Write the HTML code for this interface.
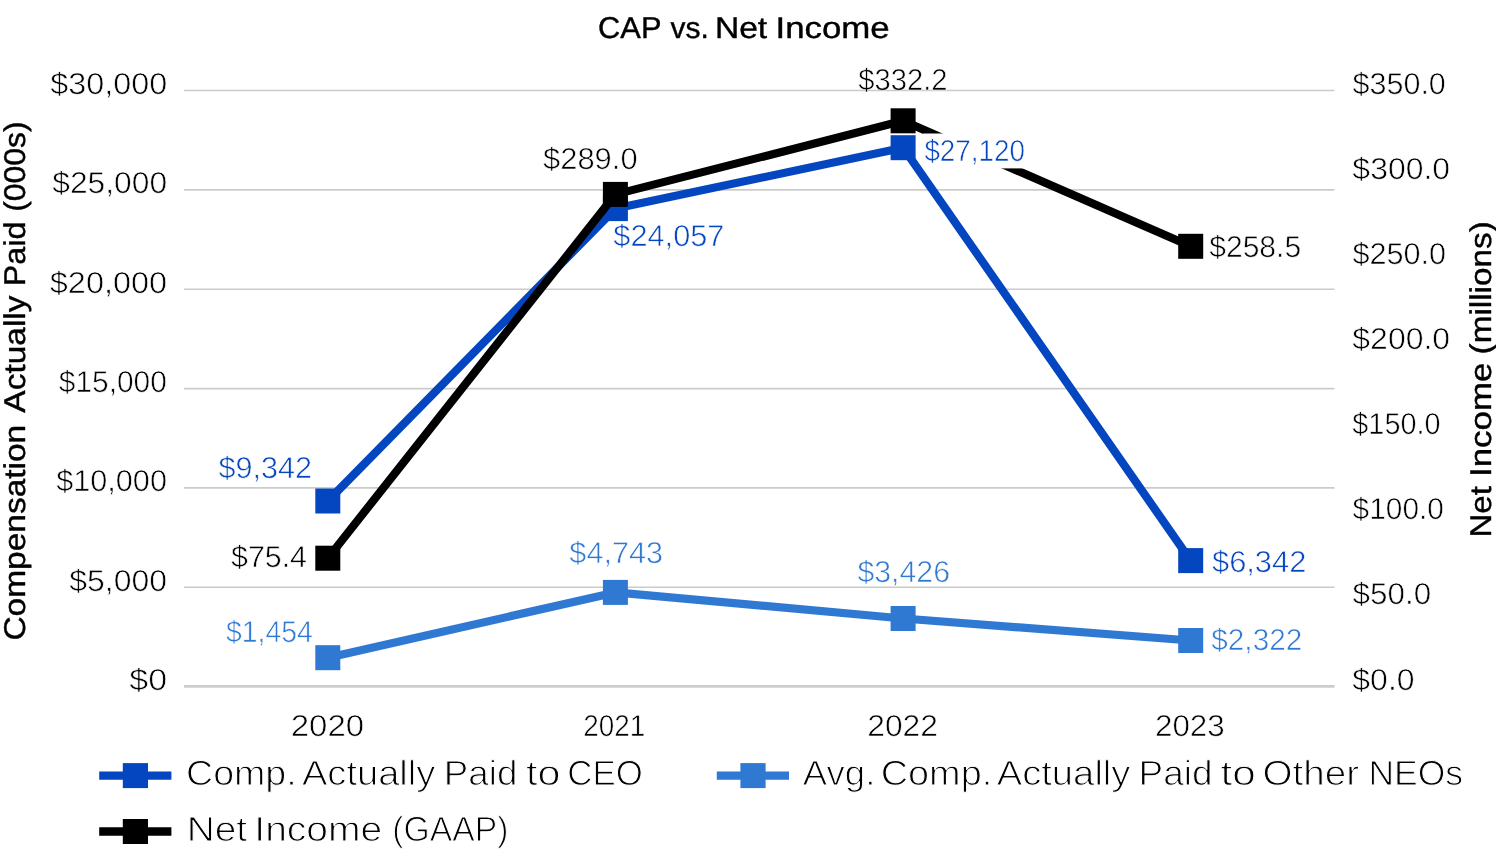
<!DOCTYPE html>
<html><head><meta charset="utf-8"><title>CAP vs. Net Income</title>
<style>html,body{margin:0;padding:0;background:#fff;}body{width:1496px;height:867px;overflow:hidden;}svg{display:block;}text{font-family:"Liberation Sans",sans-serif;}</style></head><body>
<svg width="1496" height="867" viewBox="0 0 1496 867">
<defs><filter id="ga" filterUnits="userSpaceOnUse" x="0" y="0" width="1496" height="867"><feOffset dx="0" dy="0"/></filter></defs>
<rect x="0" y="0" width="1496" height="867" fill="#ffffff"/>
<line x1="184.0" y1="90.50" x2="1334.5" y2="90.50" stroke="#cbcbcb" stroke-width="1.65"/>
<line x1="184.0" y1="189.85" x2="1334.5" y2="189.85" stroke="#cbcbcb" stroke-width="1.65"/>
<line x1="184.0" y1="289.20" x2="1334.5" y2="289.20" stroke="#cbcbcb" stroke-width="1.65"/>
<line x1="184.0" y1="388.55" x2="1334.5" y2="388.55" stroke="#cbcbcb" stroke-width="1.65"/>
<line x1="184.0" y1="487.90" x2="1334.5" y2="487.90" stroke="#cbcbcb" stroke-width="1.65"/>
<line x1="184.0" y1="587.25" x2="1334.5" y2="587.25" stroke="#cbcbcb" stroke-width="1.65"/>
<line x1="184.0" y1="686.45" x2="1334.5" y2="686.45" stroke="#cccccc" stroke-width="2.7"/>
<polyline fill="none" stroke="#0446BF" stroke-width="8.2" stroke-linejoin="round" points="327.8,501.0 615.4,208.6 903.1,147.7 1190.7,560.6"/>
<rect x="315.3" y="488.5" width="25" height="25" fill="#0446BF"/>
<rect x="602.9" y="196.1" width="25" height="25" fill="#0446BF"/>
<rect x="890.6" y="135.2" width="25" height="25" fill="#0446BF"/>
<rect x="1178.2" y="548.1" width="25" height="25" fill="#0446BF"/>
<polyline fill="none" stroke="#2F79D2" stroke-width="8.2" stroke-linejoin="round" points="327.8,657.7 615.4,592.4 903.1,618.5 1190.7,640.5"/>
<rect x="315.3" y="645.2" width="25" height="25" fill="#2F79D2"/>
<rect x="602.9" y="579.9" width="25" height="25" fill="#2F79D2"/>
<rect x="890.6" y="606.0" width="25" height="25" fill="#2F79D2"/>
<rect x="1178.2" y="628.0" width="25" height="25" fill="#2F79D2"/>
<polyline fill="none" stroke="#000000" stroke-width="8.2" stroke-linejoin="round" points="327.8,558.2 615.4,194.4 903.1,120.8 1190.7,246.3"/>
<rect x="315.3" y="545.7" width="25" height="25" fill="#000000"/>
<rect x="602.9" y="181.9" width="25" height="25" fill="#000000"/>
<rect x="890.6" y="108.3" width="25" height="25" fill="#000000"/>
<rect x="1178.2" y="233.8" width="25" height="25" fill="#000000"/>
<rect x="923" y="133.5" width="102.5" height="34.9" fill="#fff"/>
<line x1="99.2" y1="775.6" x2="171.4" y2="775.6" stroke="#0446BF" stroke-width="8.4"/>
<rect x="122.8" y="763.1" width="25.2" height="25" fill="#0446BF"/>
<line x1="716.8" y1="775.6" x2="789.0" y2="775.6" stroke="#2F79D2" stroke-width="8.4"/>
<rect x="740.4" y="763.1" width="25.2" height="25" fill="#2F79D2"/>
<line x1="99.2" y1="831.5" x2="171.4" y2="831.5" stroke="#000000" stroke-width="8.4"/>
<rect x="122.8" y="819.0" width="25.2" height="25" fill="#000000"/>
<g filter="url(#ga)" text-rendering="geometricPrecision">
<text id="yl0" x="50.15" y="93.80" font-size="30.20" fill="#000000" textLength="116.99" lengthAdjust="spacingAndGlyphs" stroke="#ffffff" stroke-width="0.60" stroke-linejoin="round">$30,000</text>
<text id="yl1" x="52.23" y="193.15" font-size="30.20" fill="#000000" textLength="114.89" lengthAdjust="spacingAndGlyphs" stroke="#ffffff" stroke-width="0.60" stroke-linejoin="round">$25,000</text>
<text id="yl2" x="49.81" y="292.50" font-size="30.20" fill="#000000" textLength="117.28" lengthAdjust="spacingAndGlyphs" stroke="#ffffff" stroke-width="0.60" stroke-linejoin="round">$20,000</text>
<text id="yl3" x="58.81" y="391.85" font-size="30.20" fill="#000000" textLength="108.09" lengthAdjust="spacingAndGlyphs" stroke="#ffffff" stroke-width="0.60" stroke-linejoin="round">$15,000</text>
<text id="yl4" x="56.15" y="491.20" font-size="30.20" fill="#000000" textLength="110.80" lengthAdjust="spacingAndGlyphs" stroke="#ffffff" stroke-width="0.60" stroke-linejoin="round">$10,000</text>
<text id="yl5" x="69.27" y="590.55" font-size="30.20" fill="#000000" textLength="97.73" lengthAdjust="spacingAndGlyphs" stroke="#ffffff" stroke-width="0.60" stroke-linejoin="round">$5,000</text>
<text id="yl6" x="129.28" y="689.90" font-size="30.20" fill="#000000" textLength="37.80" lengthAdjust="spacingAndGlyphs" stroke="#ffffff" stroke-width="0.60" stroke-linejoin="round">$0</text>
<text id="yr0" x="1352.56" y="93.50" font-size="30.20" fill="#000000" textLength="93.30" lengthAdjust="spacingAndGlyphs" stroke="#ffffff" stroke-width="0.60" stroke-linejoin="round">$350.0</text>
<text id="yr1" x="1352.38" y="178.66" font-size="30.20" fill="#000000" textLength="97.65" lengthAdjust="spacingAndGlyphs" stroke="#ffffff" stroke-width="0.60" stroke-linejoin="round">$300.0</text>
<text id="yr2" x="1352.51" y="263.81" font-size="30.20" fill="#000000" textLength="93.66" lengthAdjust="spacingAndGlyphs" stroke="#ffffff" stroke-width="0.60" stroke-linejoin="round">$250.0</text>
<text id="yr3" x="1352.35" y="348.97" font-size="30.20" fill="#000000" textLength="97.76" lengthAdjust="spacingAndGlyphs" stroke="#ffffff" stroke-width="0.60" stroke-linejoin="round">$200.0</text>
<text id="yr4" x="1352.36" y="434.13" font-size="30.20" fill="#000000" textLength="88.09" lengthAdjust="spacingAndGlyphs" stroke="#ffffff" stroke-width="0.60" stroke-linejoin="round">$150.0</text>
<text id="yr5" x="1352.59" y="519.29" font-size="30.20" fill="#000000" textLength="91.33" lengthAdjust="spacingAndGlyphs" stroke="#ffffff" stroke-width="0.60" stroke-linejoin="round">$100.0</text>
<text id="yr6" x="1352.55" y="604.44" font-size="30.20" fill="#000000" textLength="78.56" lengthAdjust="spacingAndGlyphs" stroke="#ffffff" stroke-width="0.60" stroke-linejoin="round">$50.0</text>
<text id="yr7" x="1352.33" y="689.60" font-size="30.20" fill="#000000" textLength="62.27" lengthAdjust="spacingAndGlyphs" stroke="#ffffff" stroke-width="0.60" stroke-linejoin="round">$0.0</text>
<text id="x0" x="290.73" y="736.00" font-size="30.20" fill="#000000" textLength="73.39" lengthAdjust="spacingAndGlyphs" stroke="#ffffff" stroke-width="0.60" stroke-linejoin="round">2020</text>
<text id="x1" x="583.20" y="736.00" font-size="30.20" fill="#000000" textLength="61.97" lengthAdjust="spacingAndGlyphs" stroke="#ffffff" stroke-width="0.60" stroke-linejoin="round">2021</text>
<text id="x2" x="867.27" y="736.00" font-size="30.20" fill="#000000" textLength="70.70" lengthAdjust="spacingAndGlyphs" stroke="#ffffff" stroke-width="0.60" stroke-linejoin="round">2022</text>
<text id="x3" x="1154.96" y="736.00" font-size="30.20" fill="#000000" textLength="69.73" lengthAdjust="spacingAndGlyphs" stroke="#ffffff" stroke-width="0.60" stroke-linejoin="round">2023</text>
<text id="d0" x="218.42" y="478.40" font-size="30.20" fill="#0446BF" textLength="93.51" lengthAdjust="spacingAndGlyphs" stroke="#ffffff" stroke-width="0.60" stroke-linejoin="round">$9,342</text>
<text id="d1" x="231.12" y="566.60" font-size="30.20" fill="#000000" textLength="75.88" lengthAdjust="spacingAndGlyphs" stroke="#ffffff" stroke-width="0.60" stroke-linejoin="round">$75.4</text>
<text id="d2" x="226.04" y="641.60" font-size="30.20" fill="#2F79D2" textLength="86.66" lengthAdjust="spacingAndGlyphs" stroke="#ffffff" stroke-width="0.60" stroke-linejoin="round">$1,454</text>
<text id="d3" x="543.08" y="168.80" font-size="30.20" fill="#000000" textLength="94.50" lengthAdjust="spacingAndGlyphs" stroke="#ffffff" stroke-width="0.60" stroke-linejoin="round">$289.0</text>
<text id="d4" x="613.30" y="246.00" font-size="30.20" fill="#0446BF" textLength="111.17" lengthAdjust="spacingAndGlyphs" stroke="#ffffff" stroke-width="0.60" stroke-linejoin="round">$24,057</text>
<text id="d5" x="569.36" y="562.80" font-size="30.20" fill="#2F79D2" textLength="93.71" lengthAdjust="spacingAndGlyphs" stroke="#ffffff" stroke-width="0.60" stroke-linejoin="round">$4,743</text>
<text id="d6" x="858.32" y="89.70" font-size="30.20" fill="#000000" textLength="89.16" lengthAdjust="spacingAndGlyphs" stroke="#ffffff" stroke-width="0.60" stroke-linejoin="round">$332.2</text>
<text id="d7" x="924.39" y="161.10" font-size="30.20" fill="#0446BF" textLength="100.53" lengthAdjust="spacingAndGlyphs" stroke="#ffffff" stroke-width="0.60" stroke-linejoin="round">$27,120</text>
<text id="d8" x="1209.22" y="256.70" font-size="30.20" fill="#000000" textLength="91.90" lengthAdjust="spacingAndGlyphs" stroke="#ffffff" stroke-width="0.60" stroke-linejoin="round">$258.5</text>
<text id="d9" x="857.39" y="582.30" font-size="30.20" fill="#2F79D2" textLength="92.63" lengthAdjust="spacingAndGlyphs" stroke="#ffffff" stroke-width="0.60" stroke-linejoin="round">$3,426</text>
<text id="d10" x="1212.06" y="572.00" font-size="30.20" fill="#0446BF" textLength="94.24" lengthAdjust="spacingAndGlyphs" stroke="#ffffff" stroke-width="0.60" stroke-linejoin="round">$6,342</text>
<text id="d11" x="1211.32" y="649.90" font-size="30.20" fill="#2F79D2" textLength="90.91" lengthAdjust="spacingAndGlyphs" stroke="#ffffff" stroke-width="0.60" stroke-linejoin="round">$2,322</text>
<text id="t0" x="598.08" y="37.50" font-size="30.00" fill="#000" textLength="63.39" lengthAdjust="spacingAndGlyphs" stroke="#000" stroke-width="0.40" stroke-linejoin="round">CAP</text>
<text id="t1" x="670.55" y="37.50" font-size="30.00" fill="#000" textLength="38.31" lengthAdjust="spacingAndGlyphs" stroke="#000" stroke-width="0.40" stroke-linejoin="round">vs.</text>
<text id="t2" x="714.90" y="37.50" font-size="30.00" fill="#000" textLength="52.31" lengthAdjust="spacingAndGlyphs" stroke="#000" stroke-width="0.40" stroke-linejoin="round">Net</text>
<text id="t3" x="775.53" y="37.50" font-size="30.00" fill="#000" textLength="114.22" lengthAdjust="spacingAndGlyphs" stroke="#000" stroke-width="0.40" stroke-linejoin="round">Income</text>
<text id="la0" x="186.01" y="785.00" font-size="35.00" fill="#000000" textLength="110.65" lengthAdjust="spacingAndGlyphs" stroke="#ffffff" stroke-width="1.00" stroke-linejoin="round">Comp.</text>
<text id="la1" x="301.95" y="785.00" font-size="35.00" fill="#000000" textLength="133.43" lengthAdjust="spacingAndGlyphs" stroke="#ffffff" stroke-width="1.00" stroke-linejoin="round">Actually</text>
<text id="la2" x="443.89" y="785.00" font-size="35.00" fill="#000000" textLength="73.51" lengthAdjust="spacingAndGlyphs" stroke="#ffffff" stroke-width="1.00" stroke-linejoin="round">Paid</text>
<text id="la3" x="526.10" y="785.00" font-size="35.00" fill="#000000" textLength="34.39" lengthAdjust="spacingAndGlyphs" stroke="#ffffff" stroke-width="1.00" stroke-linejoin="round">to</text>
<text id="la4" x="567.24" y="785.00" font-size="35.00" fill="#000000" textLength="75.52" lengthAdjust="spacingAndGlyphs" stroke="#ffffff" stroke-width="1.00" stroke-linejoin="round">CEO</text>
<text id="lb0" x="802.86" y="785.00" font-size="35.00" fill="#000000" textLength="72.49" lengthAdjust="spacingAndGlyphs" stroke="#ffffff" stroke-width="1.00" stroke-linejoin="round">Avg.</text>
<text id="lb1" x="880.77" y="785.00" font-size="35.00" fill="#000000" textLength="111.42" lengthAdjust="spacingAndGlyphs" stroke="#ffffff" stroke-width="1.00" stroke-linejoin="round">Comp.</text>
<text id="lb2" x="996.66" y="785.00" font-size="35.00" fill="#000000" textLength="133.82" lengthAdjust="spacingAndGlyphs" stroke="#ffffff" stroke-width="1.00" stroke-linejoin="round">Actually</text>
<text id="lb3" x="1138.58" y="785.00" font-size="35.00" fill="#000000" textLength="73.94" lengthAdjust="spacingAndGlyphs" stroke="#ffffff" stroke-width="1.00" stroke-linejoin="round">Paid</text>
<text id="lb4" x="1220.41" y="785.00" font-size="35.00" fill="#000000" textLength="35.24" lengthAdjust="spacingAndGlyphs" stroke="#ffffff" stroke-width="1.00" stroke-linejoin="round">to</text>
<text id="lb5" x="1262.46" y="785.00" font-size="35.00" fill="#000000" textLength="96.68" lengthAdjust="spacingAndGlyphs" stroke="#ffffff" stroke-width="1.00" stroke-linejoin="round">Other</text>
<text id="lb6" x="1368.46" y="785.00" font-size="35.00" fill="#000000" textLength="94.66" lengthAdjust="spacingAndGlyphs" stroke="#ffffff" stroke-width="1.00" stroke-linejoin="round">NEOs</text>
<text id="lc0" x="186.71" y="841.00" font-size="35.00" fill="#000000" textLength="60.46" lengthAdjust="spacingAndGlyphs" stroke="#ffffff" stroke-width="1.00" stroke-linejoin="round">Net</text>
<text id="lc1" x="254.30" y="841.00" font-size="35.00" fill="#000000" textLength="128.01" lengthAdjust="spacingAndGlyphs" stroke="#ffffff" stroke-width="1.00" stroke-linejoin="round">Income</text>
<text id="lc2" x="392.25" y="841.00" font-size="35.00" fill="#000000" textLength="116.15" lengthAdjust="spacingAndGlyphs" stroke="#ffffff" stroke-width="1.00" stroke-linejoin="round">(GAAP)</text>
<text id="al0" transform="translate(25.00,640.60) rotate(-90)" font-size="30.00" fill="#000" textLength="215.83" lengthAdjust="spacingAndGlyphs" stroke="#000" stroke-width="0.40" stroke-linejoin="round">Compensation</text>
<text id="al1" transform="translate(25.00,412.67) rotate(-90)" font-size="30.00" fill="#000" textLength="117.16" lengthAdjust="spacingAndGlyphs" stroke="#000" stroke-width="0.40" stroke-linejoin="round">Actually</text>
<text id="al2" transform="translate(25.00,286.22) rotate(-90)" font-size="30.00" fill="#000" textLength="64.75" lengthAdjust="spacingAndGlyphs" stroke="#000" stroke-width="0.40" stroke-linejoin="round">Paid</text>
<text id="al3" transform="translate(25.00,211.81) rotate(-90)" font-size="30.00" fill="#000" textLength="90.35" lengthAdjust="spacingAndGlyphs" stroke="#000" stroke-width="0.40" stroke-linejoin="round">(000s)</text>
<text id="ar0" transform="translate(1491.00,537.54) rotate(-90)" font-size="30.00" fill="#000" textLength="51.35" lengthAdjust="spacingAndGlyphs" stroke="#000" stroke-width="0.40" stroke-linejoin="round">Net</text>
<text id="ar1" transform="translate(1491.00,477.07) rotate(-90)" font-size="30.00" fill="#000" textLength="114.46" lengthAdjust="spacingAndGlyphs" stroke="#000" stroke-width="0.40" stroke-linejoin="round">Income</text>
<text id="ar2" transform="translate(1491.00,354.47) rotate(-90)" font-size="30.00" fill="#000" textLength="133.33" lengthAdjust="spacingAndGlyphs" stroke="#000" stroke-width="0.40" stroke-linejoin="round">(millions)</text>
</g>
</svg></body></html>
